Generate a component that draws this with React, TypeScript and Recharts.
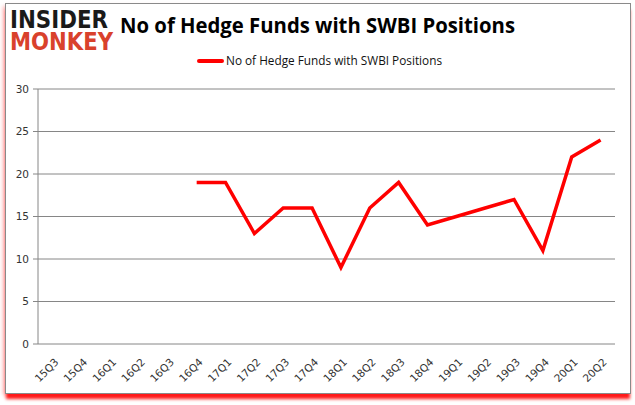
import React from "react";
import { CartesianGrid, Legend, Line, LineChart, XAxis, YAxis } from "recharts";

const quarters = [
  "15Q3", "15Q4", "16Q1", "16Q2", "16Q3", "16Q4", "17Q1", "17Q2", "17Q3", "17Q4",
  "18Q1", "18Q2", "18Q3", "18Q4", "19Q1", "19Q2", "19Q3", "19Q4", "20Q1", "20Q2",
];
const funds: (number | null)[] = [
  null, null, null, null, null, 19, 19, 13, 16, 16,
  9, 16, 19, 14, 15, 16, 17, 11, 22, 24,
];
const yTicks = [0, 5, 10, 15, 20, 25, 30];
const seriesName = "No of Hedge Funds with SWBI Positions";

const data = quarters.map((q, i) => ({ q, funds: funds[i] }));
const edgeTicks = quarters.map((_, i) => i).concat(quarters.length);

const tickFont = "'DejaVu Sans', Verdana, sans-serif";

function QuarterTick(props: any) {
  const x = Number(props.x);
  const y = Number(props.y);
  const ax = x + 4;
  const ay = y + 8;
  return (
    <text
      x={ax}
      y={ay}
      transform={`rotate(-45, ${ax}, ${ay})`}
      textAnchor="end"
      dominantBaseline="central"
      fontSize={10.5}
      fontFamily={tickFont}
      fill="#333"
    >
      {props.payload.value}
    </text>
  );
}

function LegendBox() {
  return (
    <svg width={635} height={16} style={{ display: "block" }}>
      <line x1={199} y1={8} x2={222} y2={8} stroke="#ff0000" strokeWidth={4} strokeLinecap="round" />
      <text
        x={226}
        y={12}
        fontSize={12}
        fontFamily="'Open Sans', sans-serif"
        fill="#111"
        textLength={216}
        lengthAdjust="spacingAndGlyphs"
      >
        {seriesName}
      </text>
    </svg>
  );
}

export default function App() {
  return (
    <div style={{ position: "fixed", left: 0, top: 0, width: 635, height: 405, background: "#fff" }}>
      <div
        style={{
          position: "absolute",
          left: 5,
          top: 3,
          width: 624,
          height: 389,
          border: "1px solid #8a8a8a",
          boxShadow: "0 6px 3px -1px #ff1a1a, -3px 2px 4px -1px #ffb3b3",
        }}
      />
      <div style={{ position: "absolute", left: 0, top: 0 }}>
        <LineChart width={635} height={405} data={data} margin={{ top: 73, right: 20, bottom: 11, left: 0 }}>
          <CartesianGrid xAxisId="cat" vertical={false} stroke="#868686" strokeWidth={1} />
          <XAxis
            xAxisId="edges"
            type="number"
            dataKey={() => 0}
            domain={[0, quarters.length]}
            ticks={edgeTicks}
            tick={false}
            tickSize={5}
            axisLine={{ stroke: "#868686" }}
            tickLine={{ stroke: "#868686" }}
            height={0}
            allowDataOverflow
          />
          <XAxis
            xAxisId="cat"
            dataKey="q"
            scale="band"
            interval={0}
            tick={(p: any) => <QuarterTick {...p} />}
            tickLine={false}
            axisLine={false}
            height={50}
          />
          <YAxis
            domain={[0, 30]}
            ticks={yTicks}
            width={38}
            tickSize={5}
            tickMargin={4}
            axisLine={{ stroke: "#868686" }}
            tickLine={{ stroke: "#868686" }}
            tick={{ fontSize: 10.5, fontFamily: tickFont, fill: "#333" }}
          />
          <Legend
            verticalAlign="top"
            height={16}
            content={() => <LegendBox />}
            wrapperStyle={{ top: 53, left: 0, width: 635 }}
          />
          <Line
            xAxisId="cat"
            dataKey="funds"
            name={seriesName}
            stroke="#ff0000"
            strokeWidth={3.5}
            dot={false}
            type="linear"
            isAnimationActive={false}
          />
        </LineChart>
      </div>
      <svg style={{ position: "absolute", left: 0, top: 0 }} width={635} height={60}>
        <text
          x={10}
          y={28}
          fontSize={24}
          fontWeight={900}
          fontFamily="'DejaVu Sans', sans-serif"
          fill="#1a1a1a"
          textLength={98}
          lengthAdjust="spacingAndGlyphs"
        >
          INSIDER
        </text>
        <text
          x={10}
          y={50}
          fontSize={24}
          fontWeight={900}
          fontFamily="'DejaVu Sans', sans-serif"
          fill="#d9412c"
          textLength={103}
          lengthAdjust="spacingAndGlyphs"
        >
          MONKEY
        </text>
        <text
          x={120}
          y={33}
          fontSize={22}
          fontWeight={700}
          fontFamily="'Open Sans', sans-serif"
          fill="#000"
          textLength={395}
          lengthAdjust="spacingAndGlyphs"
        >
          No of Hedge Funds with SWBI Positions
        </text>
      </svg>
    </div>
  );
}
